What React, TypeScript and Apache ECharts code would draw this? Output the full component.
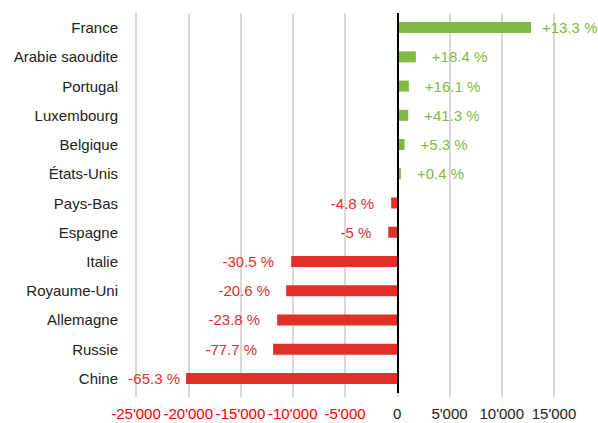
import React, { useEffect, useRef } from "react";
import * as echarts from "echarts";

const categories = ["France", "Arabie saoudite", "Portugal", "Luxembourg", "Belgique", "États-Unis", "Pays-Bas", "Espagne", "Italie", "Royaume-Uni", "Allemagne", "Russie", "Chine"];
const values = [12800, 1780, 1110, 1050, 700, 350, -580, -860, -10150, -10630, -11490, -11880, -20210];
const pctLabels = ["+13.3 %", "+18.4 %", "+16.1 %", "+41.3 %", "+5.3 %", "+0.4 %", "-4.8 %", "-5 %", "-30.5 %", "-20.6 %", "-23.8 %", "-77.7 %", "-65.3 %"];
const labelGaps = [11, 16, 16, 16, 16, 16, 17, 17, 17, 16, 17, 16, 6];

const GREEN = "#7fba42";
const RED = "#e0302a";

function fmt(v: number): string {
  const s = Math.abs(v).toString().replace(/\B(?=(\d{3})+(?!\d))/g, "'");
  return (v < 0 ? "-" : "") + s;
}

export default function App() {
  const ref = useRef<HTMLDivElement>(null);
  useEffect(() => {
    const chart = echarts.init(ref.current!, null, { renderer: "svg" });
    const font = "'Liberation Sans', Arial, sans-serif";
    const fs = 15;
    chart.setOption({
      animation: false,
      grid: { left: 136, right: 44, top: 13, bottom: 30, containLabel: false },
      xAxis: {
        type: "value",
        min: -25000,
        max: 15000,
        interval: 5000,
        axisLine: { show: false },
        axisTick: { show: true, length: 4, lineStyle: { color: "#d9d9d9", width: 2 } },
        splitLine: { show: true, lineStyle: { color: "#d9d9d9", width: 2 } },
        axisLabel: {
          formatter: (v: number) => fmt(v),
          color: (v: any) => (Number(v) < 0 ? "#ff0000" : "#222222"),
          fontFamily: font,
          fontSize: fs,
          margin: 13,
          showMinLabel: true,
          showMaxLabel: true,
          hideOverlap: false,
        },
      },
      yAxis: {
        type: "category",
        data: categories,
        inverse: true,
        axisLine: { show: false },
        axisTick: { show: false },
        axisLabel: { color: "#222222", fontFamily: font, fontSize: fs, margin: 18 },
      },
      series: [
        {
          type: "bar",
          barWidth: 11,
          data: values.map((v, i) => ({
            value: v,
            itemStyle: { color: v >= 0 ? GREEN : RED },
            label: {
              show: true,
              position: v >= 0 ? "right" : "left",
              distance: labelGaps[i],
              formatter: pctLabels[i],
              color: v >= 0 ? GREEN : RED,
              fontFamily: font,
              fontSize: fs,
            },
          })),
          markLine: {
            silent: true,
            symbol: "none",
            label: { show: false },
            lineStyle: { color: "#000000", width: 2, type: "solid" },
            data: [{ xAxis: 0 }],
          },
        },
      ],
    });
    return () => chart.dispose();
  }, []);
  return <div ref={ref} style={{ width: 598, height: 423, position: "absolute", left: 0, top: 0 }} />;
}
